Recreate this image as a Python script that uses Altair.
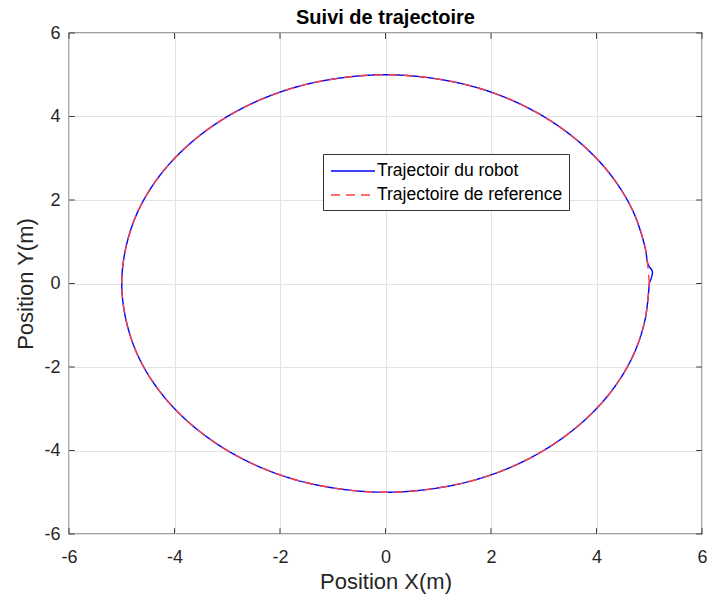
import altair as alt
import pandas as pd

# reference trajectory (circle of radius 5), read every 10 degrees
ref_x = [5.00, 4.92, 4.70, 4.33, 3.83, 3.21, 2.50, 1.71, 0.87, 0.00,
         -0.87, -1.71, -2.50, -3.21, -3.83, -4.33, -4.70, -4.92, -5.00,
         -4.92, -4.70, -4.33, -3.83, -3.21, -2.50, -1.71, -0.87, 0.00,
         0.87, 1.71, 2.50, 3.21, 3.83, 4.33, 4.70, 4.92, 5.00]
ref_y = [0.00, 0.87, 1.71, 2.50, 3.21, 3.83, 4.33, 4.70, 4.92, 5.00,
         4.92, 4.70, 4.33, 3.83, 3.21, 2.50, 1.71, 0.87, 0.00,
         -0.87, -1.71, -2.50, -3.21, -3.83, -4.33, -4.70, -4.92, -5.00,
         -4.92, -4.70, -4.33, -3.83, -3.21, -2.50, -1.71, -0.87, 0.00]

# robot trajectory: small start transient then follows the circle
rob_x = [5.00, 5.06, 4.98, 4.92, 4.70, 4.33, 3.83, 3.21, 2.50, 1.71, 0.87, 0.00,
         -0.87, -1.71, -2.50, -3.21, -3.83, -4.33, -4.70, -4.92, -5.00,
         -4.92, -4.70, -4.33, -3.83, -3.21, -2.50, -1.71, -0.87, 0.00,
         0.87, 1.71, 2.50, 3.21, 3.83, 4.33, 4.70, 4.92, 5.00]
rob_y = [0.00, 0.28, 0.45, 0.87, 1.71, 2.50, 3.21, 3.83, 4.33, 4.70, 4.92, 5.00,
         4.92, 4.70, 4.33, 3.83, 3.21, 2.50, 1.71, 0.87, 0.00,
         -0.87, -1.71, -2.50, -3.21, -3.83, -4.33, -4.70, -4.92, -5.00,
         -4.92, -4.70, -4.33, -3.83, -3.21, -2.50, -1.71, -0.87, 0.00]

series = ["Trajectoir du robot", "Trajectoire de reference"]
tick_vals = [-6, -4, -2, 0, 2, 4, 6]
x_title = "Position X(m)"
y_title = "Position Y(m)"

rows = []
for i, (x, y) in enumerate(zip(rob_x, rob_y)):
    rows.append({"x": x, "y": y, "i": i, "s": series[0]})
for i, (x, y) in enumerate(zip(ref_x, ref_y)):
    rows.append({"x": x, "y": y, "i": i, "s": series[1]})
df = pd.DataFrame(rows)

FONT = "Liberation Sans"
xs = alt.Scale(domain=[-6, 6], nice=False)
ys = alt.Scale(domain=[-6, 6], nice=False)

xaxis = alt.Axis(values=tick_vals, labelFlush=False, titlePadding=5, labelPadding=14,
                 labelExpr="toString(datum.value)")
yaxis = alt.Axis(values=tick_vals, labelFlush=False, titlePadding=6, labelPadding=9,
                 labelExpr="toString(datum.value)")

legend = alt.Legend(title=None, orient="none", legendX=254, legendY=121,
                    symbolType="M-2.2,0H2.2", symbolSize=400, symbolStrokeWidth=1.5,
                    symbolOffset=13, labelOffset=13,
                    labelFontSize=17.5, labelFont=FONT, labelColor="#000000", labelLimit=400,
                    fillColor="white", strokeColor="#333333", padding=6,
                    rowPadding=4)

lines = alt.Chart(df).mark_line(strokeWidth=1.4, interpolate="catmull-rom").encode(
    x=alt.X("x:Q", scale=xs, title=x_title, axis=xaxis),
    y=alt.Y("y:Q", scale=ys, title=y_title, axis=yaxis),
    order="i:Q",
    color=alt.Color("s:N", sort=series,
                    scale=alt.Scale(domain=series, range=["#0000ff", "#ff4040"]),
                    legend=legend),
    strokeDash=alt.StrokeDash("s:N", sort=series,
                              scale=alt.Scale(domain=series, range=[[1, 0], [9, 6]]),
                              legend=legend),
)

tdf = pd.DataFrame({"t": tick_vals})
tick_len_y = 0.14
tick_len_x = 0.11
ticks_bottom = alt.Chart(tdf).mark_rule(color="#404040").encode(
    x=alt.X("t:Q", scale=xs, title=x_title, axis=xaxis), y=alt.datum(-6), y2=alt.datum(-6 + tick_len_y))
ticks_top = alt.Chart(tdf).mark_rule(color="#404040").encode(
    x=alt.X("t:Q", scale=xs, title=x_title, axis=xaxis), y=alt.datum(6), y2=alt.datum(6 - tick_len_y))
ticks_left = alt.Chart(tdf).mark_rule(color="#404040").encode(
    y=alt.Y("t:Q", scale=ys, title=y_title, axis=yaxis), x=alt.datum(-6), x2=alt.datum(-6 + tick_len_x))
ticks_right = alt.Chart(tdf).mark_rule(color="#404040").encode(
    y=alt.Y("t:Q", scale=ys, title=y_title, axis=yaxis), x=alt.datum(6), x2=alt.datum(6 - tick_len_x))

chart = alt.layer(lines, ticks_bottom, ticks_top, ticks_left, ticks_right).properties(
    width=633, height=501,
    background="white",
    title=alt.TitleParams("Suivi de trajectoire", fontSize=20, fontWeight="bold", font=FONT,
                          color="#000000", offset=-4, anchor="middle"),
    autosize=alt.AutoSizeParams(type="none"),
    padding={"left": 69, "top": 33, "right": 7, "bottom": 67},
).configure_view(
    stroke="#404040", strokeWidth=1.3
).configure_axis(
    grid=True, gridColor="#e2e2e2", gridWidth=1, ticks=False, domain=False,
    labelFont=FONT, labelFontSize=18, labelColor="#262626",
    titleFont=FONT, titleFontSize=22, titleFontWeight="normal", titleColor="#262626",
)

chart.save("out.html", embed_options={"renderer": "svg", "actions": False})
